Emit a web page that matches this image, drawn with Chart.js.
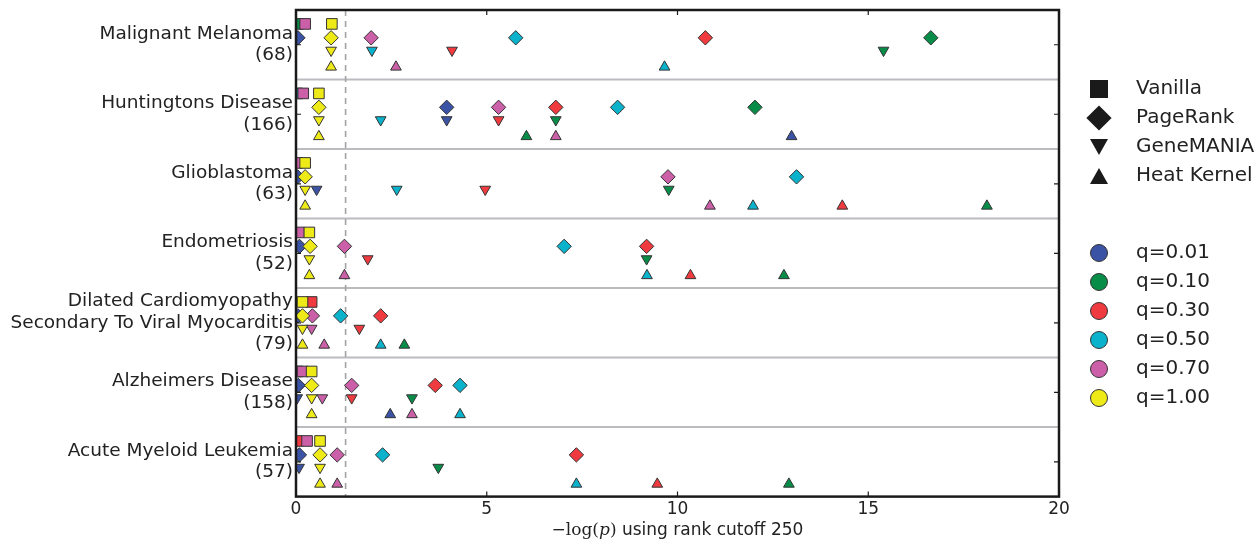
<!DOCTYPE html>
<html>
<head>
<meta charset="utf-8">
<script src="https://cdn.jsdelivr.net/npm/chart.js@4.4.0/dist/chart.umd.min.js"></script>
<style>
  html, body { margin: 0; padding: 0; background: #fff; }
  #wrap { width: 1260px; height: 542px; }
</style>
</head>
<body>
<div id="wrap"><canvas id="chart"></canvas></div>
<script>
const diseases = [
    ['Malignant Melanoma', '(68)'],
    ['Huntingtons Disease', '(166)'],
    ['Glioblastoma', '(63)'],
    ['Endometriosis', '(52)'],
    ['Dilated Cardiomyopathy', 'Secondary To Viral Myocarditis', '(79)'],
    ['Alzheimers Disease', '(158)'],
    ['Acute Myeloid Leukemia', '(57)']
];
const qLevels = ['q=0.01', 'q=0.10', 'q=0.30', 'q=0.50', 'q=0.70', 'q=1.00'];
const qColors = ['#3a53a4', '#078d48', '#ef3a3f', '#0ab2cc', '#cc60a8', '#eeea18'];
const methods = ['Vanilla', 'PageRank', 'GeneMANIA', 'Heat Kernel'];
const xTicks = [0, 5, 10, 15, 20];
const pCutoff = 1.3;

// rows = diseases, columns = q levels (0.01, 0.10, 0.30, 0.50, 0.70, 1.00); null = not shown
const vanilla = [
    [null, 0.05, null, null, 0.24, 0.94],
    [null, null, null, 0.03, 0.19, 0.60],
    [null, null, null, null, 0.03, 0.24],
    [null, null, null, null, 0.08, 0.35],
    [null, null, 0.41, null, null, 0.17],
    [null, null, 0.04, null, 0.17, 0.41],
    [null, null, 0.03, null, 0.29, 0.63]
];
const pageRank = [
    [0.05, 16.64, 10.73, 5.76, 1.97, 0.92],
    [3.95, 12.03, 6.81, 8.43, 5.31, 0.60],
    [0.04, null, null, 13.12, 9.75, 0.24],
    [0.09, null, 9.19, 7.03, 1.27, 0.37],
    [0.05, null, 2.22, 1.17, 0.43, 0.17],
    [0.06, null, 3.65, 4.30, 1.46, 0.41],
    [0.09, null, 7.35, 2.27, 1.08, 0.63]
];
const geneMania = [
    [null, 15.40, 4.09, 1.99, null, 0.92],
    [3.95, 6.81, 5.31, 2.22, null, 0.60],
    [0.54, 9.77, 4.96, 2.64, null, 0.24],
    [null, 9.19, 1.88, null, null, 0.35],
    [null, null, 1.66, null, 0.41, 0.17],
    [0.03, 3.04, 1.46, null, 0.69, 0.41],
    [0.08, 3.73, null, null, null, 0.63]
];
const heatKernel = [
    [null, null, null, 9.66, 2.62, 0.92],
    [12.99, 6.04, null, null, 6.81, 0.60],
    [null, 18.11, 14.32, 11.98, 10.85, 0.24],
    [null, 12.79, 10.34, 9.20, 1.27, 0.35],
    [null, 2.84, null, 2.22, 0.74, 0.17],
    [2.47, null, null, 4.30, 3.04, 0.41],
    [null, 12.92, 9.47, 7.35, 1.08, 0.63]
];

const methodData = [vanilla, pageRank, geneMania, heatKernel];
const rowOffsets = [-0.3, -0.1, 0.08, 0.32];
const markerStyles = [
    {pointStyle: 'rect', radius: 7.5, rotation: 0},
    {pointStyle: 'rectRot', radius: 7.2, rotation: 0},
    {pointStyle: 'triangle', radius: 6.2, rotation: 180},
    {pointStyle: 'triangle', radius: 6.2, rotation: 0}
];

const FONT = '"DejaVu Sans", sans-serif';
const datasets = [];

methodData.forEach((table, mi) => {
    qLevels.forEach((q, qi) => {
        const points = [];
        table.forEach((row, ri) => {
            if (row[qi] !== null) points.push({x: row[qi], y: ri + rowOffsets[mi]});
        });
        const st = markerStyles[mi];
        datasets.push({
            label: methods[mi] + ' ' + q,
            data: points,
            pointStyle: st.pointStyle,
            pointRadius: st.radius,
            pointHoverRadius: st.radius,
            rotation: st.rotation,
            backgroundColor: qColors[qi],
            borderColor: '#333',
            borderWidth: 1,
            clip: 0,
            order: (qLevels.length - 1 - qi) * 4 + (3 - mi)
        });
    });
});

function shape(ctx, kind, x, y, s) {
    ctx.beginPath();
    if (kind === 0) {
        ctx.rect(x - s / 2, y - s / 2, s, s);
    } else if (kind === 1) {
        const d = s * 0.7;
        ctx.moveTo(x, y - d); ctx.lineTo(x + d, y); ctx.lineTo(x, y + d); ctx.lineTo(x - d, y);
        ctx.closePath();
    } else if (kind === 2) {
        ctx.moveTo(x - s / 2, y - s * 0.45); ctx.lineTo(x + s / 2, y - s * 0.45); ctx.lineTo(x, y + s * 0.45);
        ctx.closePath();
    } else {
        ctx.moveTo(x - s / 2, y + s * 0.45); ctx.lineTo(x + s / 2, y + s * 0.45); ctx.lineTo(x, y - s * 0.45);
        ctx.closePath();
    }
}

const decorPlugin = {
    id: 'decor',
    beforeDatasetsDraw(chart) {
        const {ctx, chartArea: a, scales: {x, y}} = chart;
        ctx.save();
        ctx.strokeStyle = '#bcbcc0';
        ctx.lineWidth = 2;
        for (let i = 0; i < diseases.length - 1; i++) {
            const py = y.getPixelForValue(i + 0.5);
            ctx.beginPath(); ctx.moveTo(a.left, py); ctx.lineTo(a.right, py); ctx.stroke();
        }
        const px = x.getPixelForValue(pCutoff);
        ctx.setLineDash([6, 5]);
        ctx.strokeStyle = '#a3a3a3';
        ctx.lineWidth = 1.6;
        ctx.beginPath(); ctx.moveTo(px, a.top); ctx.lineTo(px, a.bottom); ctx.stroke();
        ctx.restore();
    },
    afterDraw(chart) {
        const {ctx, chartArea: a, scales: {x, y}} = chart;
        ctx.save();
        // frame
        ctx.strokeStyle = '#1a1a1a';
        ctx.lineWidth = 2.5;
        ctx.strokeRect(a.left, a.top, a.right - a.left, a.bottom - a.top);
        // inward ticks
        ctx.lineWidth = 1.2;
        ctx.beginPath();
        xTicks.forEach(v => {
            const px = x.getPixelForValue(v);
            ctx.moveTo(px, a.bottom); ctx.lineTo(px, a.bottom - 5);
            ctx.moveTo(px, a.top); ctx.lineTo(px, a.top + 5);
        });
        diseases.forEach((d, i) => {
            const py = y.getPixelForValue(i);
            ctx.moveTo(a.left, py); ctx.lineTo(a.left + 5, py);
            ctx.moveTo(a.right, py); ctx.lineTo(a.right - 5, py);
        });
        ctx.stroke();

        // category labels
        ctx.fillStyle = '#222';
        ctx.font = '18.5px ' + FONT;
        ctx.textAlign = 'right';
        ctx.textBaseline = 'middle';
        diseases.forEach((lines, i) => {
            const cy = y.getPixelForValue(i);
            lines.forEach((t, j) => {
                ctx.fillText(t, a.left - 3, cy + (j - (lines.length - 1) / 2) * 21.6);
            });
        });

        // x axis title: −log(p) using rank cutoff 250
        const ty = a.bottom + 34;
        const parts = [
            ['\u2212log(', '17px "DejaVu Serif", serif'],
            ['p', 'italic 17px "DejaVu Serif", serif'],
            [')', '17px "DejaVu Serif", serif'],
            [' using rank cutoff 250', '17px ' + FONT]
        ];
        let total = 0;
        parts.forEach(p => { ctx.font = p[1]; total += ctx.measureText(p[0]).width; });
        let tx = (a.left + a.right) / 2 - total / 2;
        ctx.textAlign = 'left';
        parts.forEach(p => {
            ctx.font = p[1];
            ctx.fillText(p[0], tx, ty);
            tx += ctx.measureText(p[0]).width;
        });

        // legend
        const lx = a.right + 40;
        const textX = a.right + 77;
        ctx.font = '20px ' + FONT;
        methods.forEach((m, i) => {
            const ly = 89 + i * 29;
            ctx.fillStyle = '#1a1a1a';
            shape(ctx, i, lx, ly, 18);
            ctx.fill();
            ctx.fillStyle = '#222';
            ctx.fillText(m, textX, ly);
        });
        qLevels.forEach((q, i) => {
            const ly = 253 + i * 29;
            ctx.beginPath();
            ctx.arc(lx, ly, 8.5, 0, Math.PI * 2);
            ctx.fillStyle = qColors[i];
            ctx.fill();
            ctx.strokeStyle = '#333';
            ctx.lineWidth = 1;
            ctx.stroke();
            ctx.fillStyle = '#222';
            ctx.fillText(q, textX, ly);
        });
        ctx.restore();
    }
};

new Chart(document.getElementById('chart'), {
    type: 'scatter',
    data: {datasets: datasets},
    options: {
        responsive: true,
        maintainAspectRatio: false,
        animation: false,
        layout: {padding: {left: 296, right: 201, top: 10, bottom: 19}},
        plugins: {
            legend: {display: false},
            tooltip: {enabled: false}
        },
        scales: {
            x: {
                type: 'linear',
                min: 0,
                max: 20,
                ticks: {stepSize: 5, color: '#222', padding: 3, font: {family: FONT, size: 17}},
                grid: {display: false, drawTicks: false},
                border: {display: false}
            },
            y: {
                type: 'linear',
                min: -0.5,
                max: 6.5,
                reverse: true,
                display: false
            }
        }
    },
    plugins: [decorPlugin]
});
</script>
</body>
</html>
